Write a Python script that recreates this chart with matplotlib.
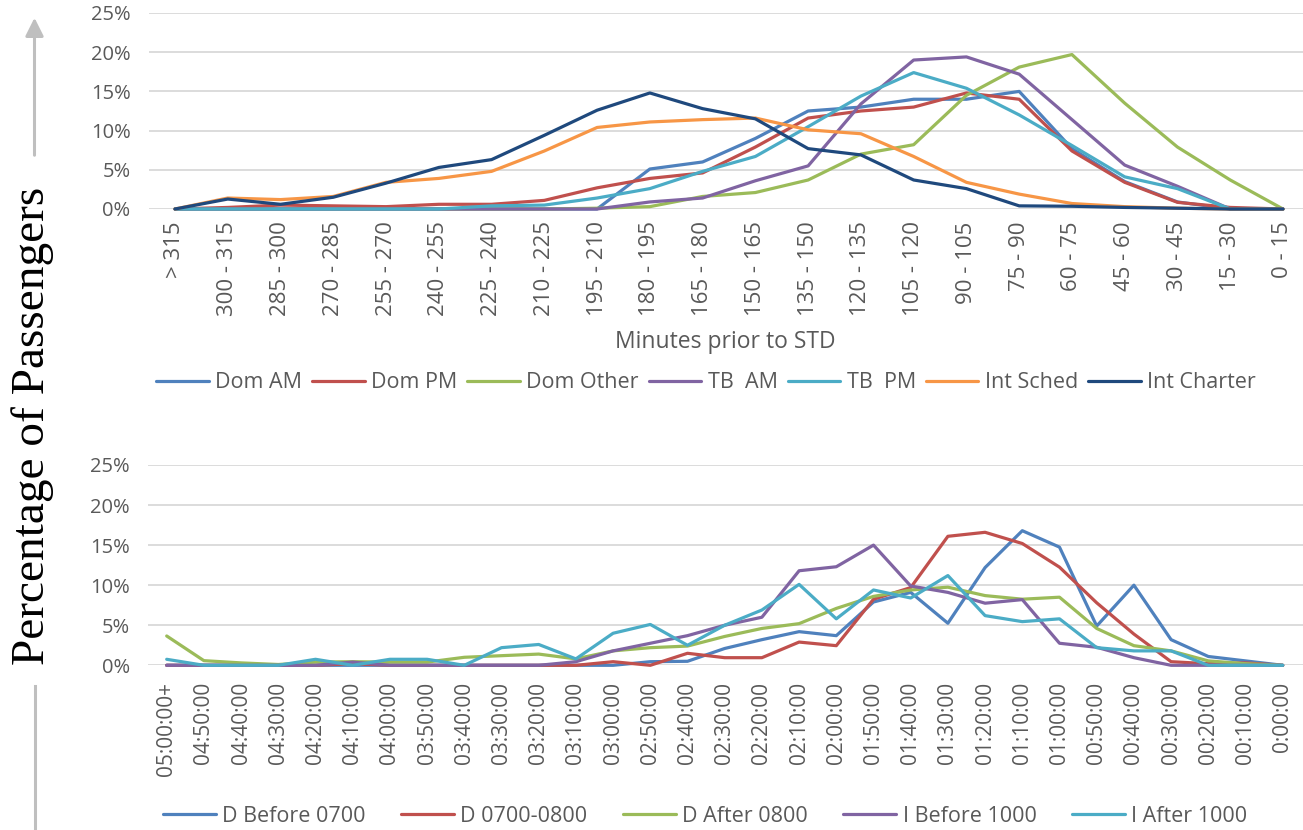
import matplotlib
matplotlib.use("Agg")
import matplotlib.pyplot as plt
from matplotlib.patches import FancyArrowPatch
from matplotlib.lines import Line2D

# ---------------- data ----------------
top_categories = ["> 315", "300 - 315", "285 - 300", "270 - 285", "255 - 270", "240 - 255",
                  "225 - 240", "210 - 225", "195 - 210", "180 - 195", "165 - 180", "150 - 165",
                  "135 - 150", "120 - 135", "105 - 120", "90 - 105", "75 - 90", "60 - 75",
                  "45 - 60", "30 - 45", "15 - 30", "0 - 15"]

dom_am = [0, 0, 0, 0, 0, 0, 0, 0, 0, 5.1, 6.0, 9.0, 12.5, 13.0, 14.0, 14.0, 15.0, 7.7, 3.5, 0.9, 0, 0]
dom_pm = [0, 0.2, 0.5, 0.4, 0.3, 0.6, 0.6, 1.1, 2.7, 3.9, 4.6, 7.9, 11.6, 12.5, 13.0, 14.8, 14.0, 7.4, 3.4, 0.85, 0.2, 0]
dom_other = [0, 0, 0, 0, 0, 0, 0, 0, 0.1, 0.3, 1.6, 2.1, 3.7, 7.0, 8.2, 14.5, 18.1, 19.7, 13.5, 7.9, 3.7, 0]
tb_am = [0, 0, 0, 0, 0, 0, 0, 0, 0, 0.9, 1.4, 3.6, 5.5, 13.4, 19.0, 19.4, 17.2, 11.4, 5.6, 2.9, 0, 0]
tb_pm = [0, 0, 0, 0, 0, 0, 0.4, 0.5, 1.4, 2.6, 4.8, 6.7, 10.5, 14.4, 17.4, 15.4, 12.0, 8.1, 4.1, 2.6, 0, 0]
int_sched = [0, 1.4, 1.2, 1.6, 3.4, 3.9, 4.8, 7.4, 10.4, 11.1, 11.4, 11.6, 10.1, 9.6, 6.7, 3.4, 1.9, 0.7, 0.3, 0.1, 0, 0]
int_charter = [0, 1.27, 0.6, 1.5, 3.3, 5.3, 6.3, 9.4, 12.6, 14.8, 12.8, 11.5, 7.7, 6.9, 3.7, 2.6, 0.4, 0.35, 0.2, 0.1, 0, 0]

top_series = ["Dom AM", "Dom PM", "Dom Other", "TB  AM", "TB  PM", "Int Sched", "Int Charter"]

bottom_categories = ["05:00:00+", "04:50:00", "04:40:00", "04:30:00", "04:20:00", "04:10:00",
                     "04:00:00", "03:50:00", "03:40:00", "03:30:00", "03:20:00", "03:10:00",
                     "03:00:00", "02:50:00", "02:40:00", "02:30:00", "02:20:00", "02:10:00",
                     "02:00:00", "01:50:00", "01:40:00", "01:30:00", "01:20:00", "01:10:00",
                     "01:00:00", "00:50:00", "00:40:00", "00:30:00", "00:20:00", "00:10:00",
                     "0:00:00"]

d_before_0700 = [0, 0, 0, 0, 0, 0, 0, 0, 0, 0, 0, 0, 0, 0.45, 0.5, 2.1, 3.2, 4.2, 3.7, 7.9,
                 9.1, 5.25, 12.2, 16.8, 14.75, 4.9, 10.0, 3.2, 1.1, 0.55, 0]
d_0700_0800 = [0, 0, 0, 0, 0, 0.2, 0, 0, 0, 0, 0, 0, 0.45, 0, 1.5, 0.95, 0.95, 2.9, 2.45, 8.25,
               9.7, 16.1, 16.6, 15.2, 12.25, 7.8, 3.9, 0.45, 0.2, 0.3, 0]
d_after_0800 = [3.66, 0.58, 0.3, 0.1, 0.4, 0.45, 0.4, 0.4, 1.0, 1.2, 1.4, 0.8, 1.8, 2.2, 2.4, 3.6,
                4.6, 5.2, 7.1, 8.6, 9.4, 9.75, 8.7, 8.25, 8.5, 4.6, 2.45, 1.8, 0.55, 0.2, 0]
i_before_1000 = [0, 0, 0, 0, 0, 0.4, 0, 0, 0, 0, 0, 0.45, 1.8, 2.75, 3.7, 5.0, 6.0, 11.8, 12.3, 15.0,
                 9.9, 9.1, 7.75, 8.2, 2.75, 2.25, 0.95, 0, 0, 0, 0]
i_after_1000 = [0.75, 0, 0, 0, 0.75, 0, 0.75, 0.75, 0, 2.2, 2.6, 0.8, 4.0, 5.1, 2.5, 5.0, 6.9, 10.1,
                5.8, 9.4, 8.4, 11.2, 6.2, 5.45, 5.8, 2.2, 1.8, 1.8, 0, 0, 0]

bottom_series = ["D Before 0700", "D 0700-0800", "D After 0800", "I Before 1000", "I After 1000"]

y_ticks = [0, 5, 10, 15, 20, 25]

top_colors = ["#4F81BD", "#C0504D", "#9BBB59", "#8064A2", "#4BACC6", "#F79646", "#1F497D"]
bottom_colors = ["#4F81BD", "#C0504D", "#9BBB59", "#8064A2", "#4BACC6"]

# ---------------- figure ----------------
W, H = 1303, 830
fig = plt.figure(figsize=(W / 100, H / 100), dpi=100)
FONT = "Open Sans"
TXT = "#595959"
GRID = "#D9D9D9"
LW = 2.3


def style_axes(ax, ncat, tick_labels, xfs, pad):
    for s in ax.spines.values():
        s.set_visible(False)
    ax.set_ylim(0, 25)
    ax.set_yticks(y_ticks)
    ax.set_yticklabels([f"{v}%" for v in y_ticks], fontfamily=FONT, fontsize=14.5, color=TXT)
    ax.set_xticks(range(ncat))
    ax.set_xticklabels(tick_labels, rotation=90, fontfamily=FONT, fontsize=xfs, color=TXT)
    ax.tick_params(axis="both", length=0)
    ax.tick_params(axis="y", pad=13)
    ax.tick_params(axis="x", pad=pad)
    ax.grid(axis="y", color=GRID, linewidth=1.3)
    ax.set_axisbelow(True)


# top chart
x0, x1 = 175.0, 1283.0
step = (x1 - x0) / 21
left = x0 - 0.5 * step
ax1 = fig.add_axes([left / W, 1 - 209 / H, (W - left) / W, 196 / H])
top_data = [dom_am, dom_pm, dom_other, tb_am, tb_pm, int_sched, int_charter]
xs = list(range(len(top_categories)))
for name, vals, c in zip(top_series, top_data, top_colors):
    ax1.plot(xs, vals, color=c, lw=LW, label=name, clip_on=False, solid_capstyle="round")
ax1.set_xlim(-0.5, (W - x0) / step)
style_axes(ax1, len(top_categories), top_categories, 16, 9)
ax1.set_xlabel("Minutes prior to STD", fontfamily=FONT, fontsize=16.5, color=TXT, labelpad=10)

leg1 = ax1.legend(loc="center", bbox_to_anchor=(706 / W, 1 - 383 / H), bbox_transform=fig.transFigure,
                  ncol=7, frameon=False, prop={"family": FONT, "size": 15.5}, handlelength=2.45,
                  handletextpad=0.3, columnspacing=0.45, borderaxespad=0)
for t in leg1.get_texts():
    t.set_color(TXT)

# bottom chart
bx0, bx1 = 166.7, 1282.7
bstep = (bx1 - bx0) / 30
bleft = bx0 - 0.5 * bstep
ax2 = fig.add_axes([bleft / W, 1 - 665.3 / H, (W - bleft) / W, 200.3 / H])
bottom_data = [d_before_0700, d_0700_0800, d_after_0800, i_before_1000, i_after_1000]
bxs = list(range(len(bottom_categories)))
for name, vals, c in zip(bottom_series, bottom_data, bottom_colors):
    ax2.plot(bxs, vals, color=c, lw=LW, label=name, clip_on=False, solid_capstyle="round")
ax2.set_xlim(-0.5, (W - bx0) / bstep)
style_axes(ax2, len(bottom_categories), bottom_categories, 15, 12)

leg2 = ax2.legend(loc="center", bbox_to_anchor=(705 / W, 1 - 816 / H), bbox_transform=fig.transFigure,
                  ncol=5, frameon=False, prop={"family": FONT, "size": 15.5}, handlelength=2.45,
                  handletextpad=0.3, columnspacing=1.65, borderaxespad=0)
for t in leg2.get_texts():
    t.set_color(TXT)

# shared y label with arrows
fig.text(33 / W, 1 - 425.5 / H, "Percentage of Passengers", rotation=90, ha="center", va="center",
         fontfamily="Liberation Serif", fontsize=34, color="black")
arr = FancyArrowPatch((34.5 / W, 1 - 158 / H), (34.5 / W, 1 - 15 / H), transform=fig.transFigure,
                      arrowstyle="-|>,head_length=11,head_width=5.5", mutation_scale=1,
                      color="#BFBFBF", lw=2.2)
fig.add_artist(arr)
fig.add_artist(Line2D([34.5 / W, 34.5 / W], [1 - 686 / H, 0], transform=fig.transFigure,
                      color="#BFBFBF", lw=2.2))

fig.savefig("out.png", dpi=100)
